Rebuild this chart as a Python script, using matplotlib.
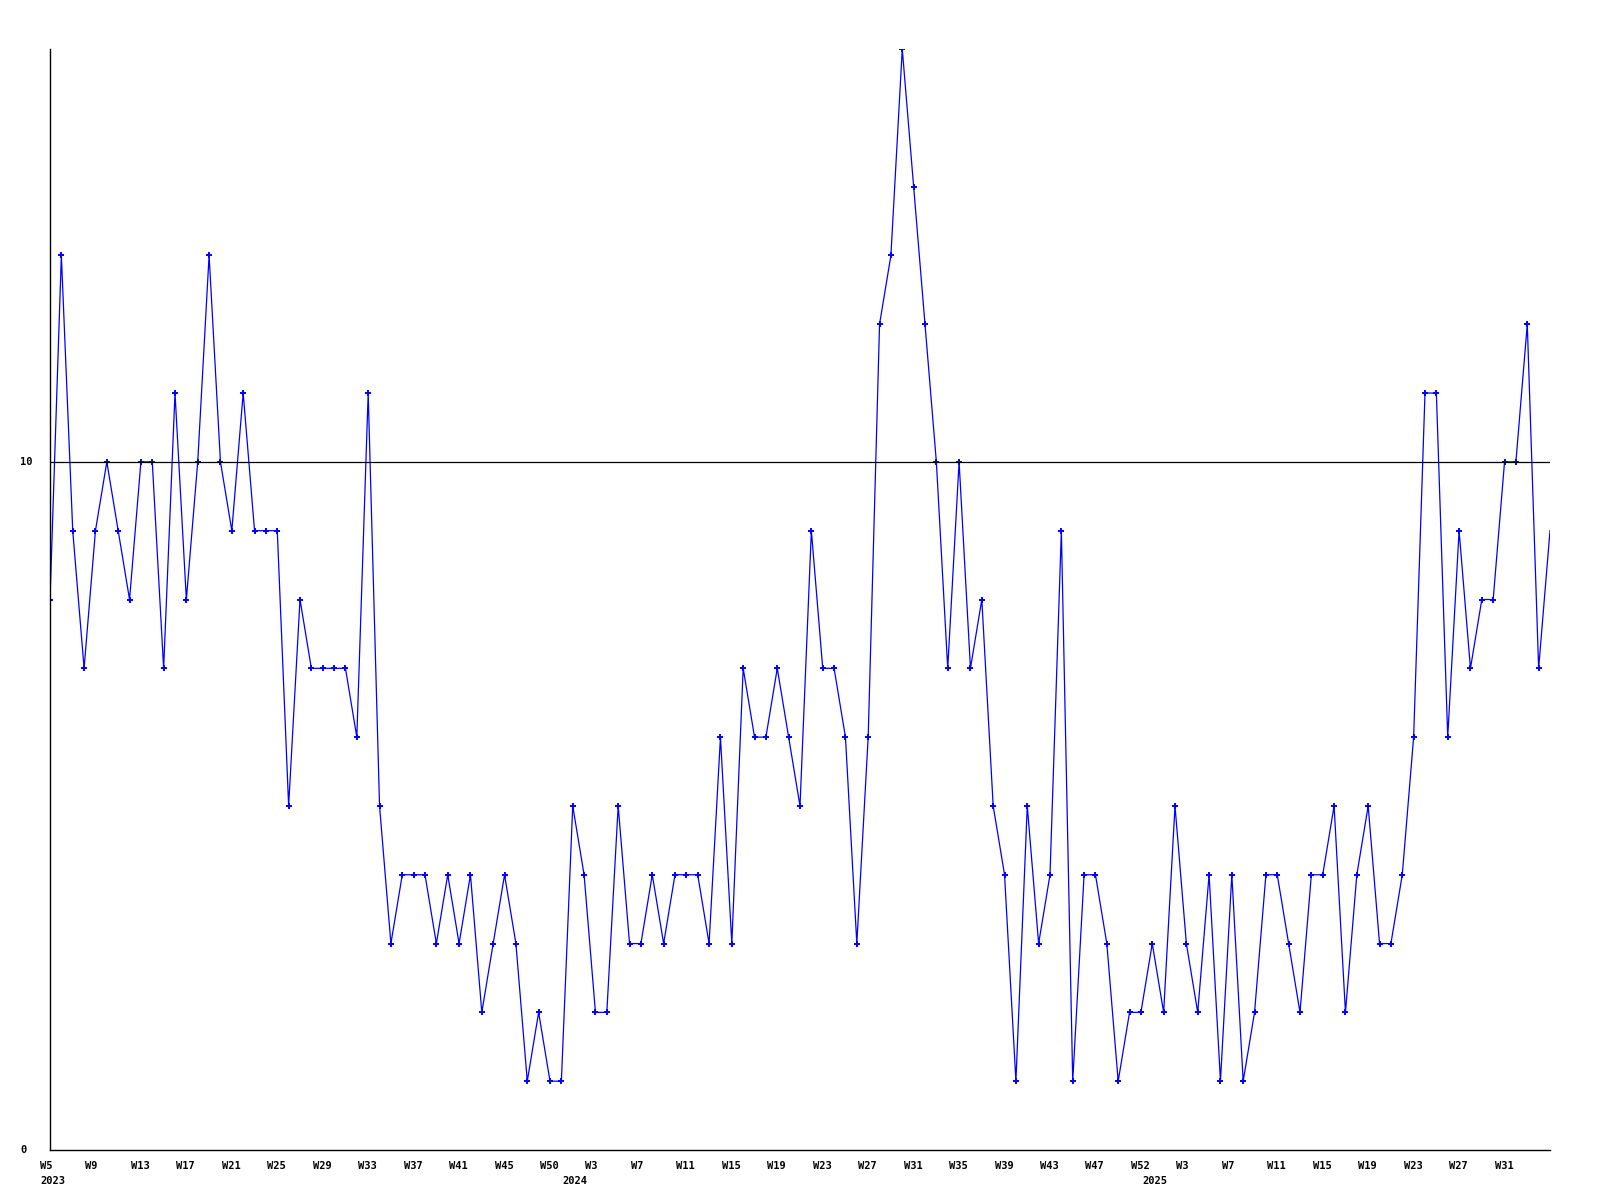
import matplotlib
matplotlib.use('Agg')
import matplotlib.pyplot as plt
import matplotlib.transforms as mtransforms

# weekly values, starting 2023 W5
values = [8, 13, 9, 7, 9, 10, 9, 8, 10, 10, 7, 11, 8, 10, 13, 10, 9, 11, 9, 9,
          9, 5, 8, 7, 7, 7, 7, 6, 11, 5, 3, 4, 4, 4, 3, 4, 3, 4, 2, 3,
          4, 3, 1, 2, 1, 1, 5, 4, 2, 2, 5, 3, 3, 4, 3, 4, 4, 4, 3, 6,
          3, 7, 6, 6, 7, 6, 5, 9, 7, 7, 6, 3, 6, 12, 13, 16, 14, 12, 10, 7,
          10, 7, 8, 5, 4, 1, 5, 3, 4, 9, 1, 4, 4, 3, 1, 2, 2, 3, 2, 5,
          3, 2, 4, 1, 4, 1, 2, 4, 4, 3, 2, 4, 4, 5, 2, 4, 5, 3, 3, 4,
          6, 11, 11, 6, 9, 7, 8, 8, 10, 10, 12, 7, 9]

week_labels = ['W5', 'W9', 'W13', 'W17', 'W21', 'W25', 'W29', 'W33', 'W37',
               'W41', 'W45', 'W50',
               'W3', 'W7', 'W11', 'W15', 'W19', 'W23', 'W27', 'W31', 'W35',
               'W39', 'W43', 'W47', 'W52',
               'W3', 'W7', 'W11', 'W15', 'W19', 'W23', 'W27', 'W31']
label_step = 4

years = ['2023', '2024', '2025']
year_pos = [0, 46, 97]

y_ticks = [0, 10]
ref_level = 10

font = dict(family='DejaVu Sans Mono', fontweight='bold', fontsize=7.5)

fig = plt.figure(figsize=(16, 12), dpi=100)
ax = fig.add_axes([50/1600, 50/1200, 1500/1600, 1101/1200])

x = list(range(len(values)))
# last point has no marker in the original
ax.plot(x, values, color='#0000ff', lw=0.9, marker='+', ms=4, mew=1.4,
        markevery=list(range(len(values) - 1)), zorder=2)
ax.axhline(ref_level, color='black', lw=0.9, zorder=3)

ax.set_xlim(0, len(values) - 1)
ax.set_ylim(0, 16)
for s in ['top', 'right']:
    ax.spines[s].set_visible(False)
for s in ['left', 'bottom']:
    ax.spines[s].set_linewidth(1.0)
    ax.spines[s].set_color('black')
ax.set_xticks([])
ax.set_yticks([])

# x labels: left aligned a little before each point
xtr = mtransforms.offset_copy(ax.get_xaxis_transform(), fig=fig,
                              x=-10, y=-11, units='dots')
for k, lab in enumerate(week_labels):
    ax.text(k * label_step, 0, lab, transform=xtr, ha='left', va='top',
            clip_on=False, **font)
ytr = mtransforms.offset_copy(ax.get_xaxis_transform(), fig=fig,
                              x=-10, y=-26, units='dots')
for pos, yr in zip(year_pos, years):
    ax.text(pos, 0, yr, transform=ytr, ha='left', va='top',
            clip_on=False, **font)

# y labels
for v in y_ticks:
    ax.text(-30/1500, v, str(v), transform=ax.get_yaxis_transform(),
            ha='left', va='center', clip_on=False, **font)

fig.savefig('out.png', dpi=100)
